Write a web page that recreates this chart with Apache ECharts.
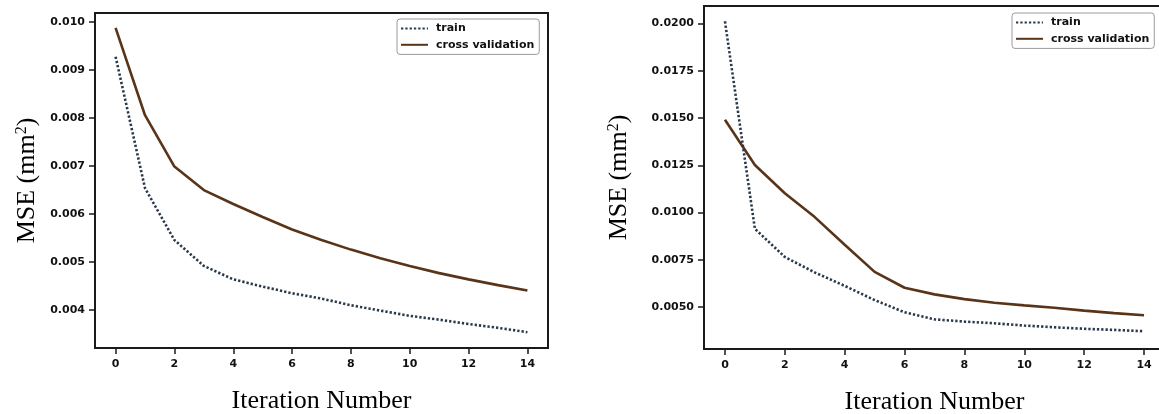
<!DOCTYPE html>
<html>
<head>
<meta charset="utf-8">
<script src="https://cdn.jsdelivr.net/npm/echarts@6/dist/echarts.min.js"></script>
<style>html,body{margin:0;padding:0;background:#fff}#c{width:1159px;height:414px}</style>
</head>
<body>
<div id="c"></div>
<script>
const iterations = [0,1,2,3,4,5,6,7,8,9,10,11,12,13,14];
const leftTrain = [0.00928,0.00654,0.00546,0.00492,0.00464,0.00449,0.00435,0.00424,0.00410,0.00399,0.00388,0.00380,0.00371,0.00363,0.00354];
const leftCV    = [0.00988,0.00806,0.00699,0.00650,0.00621,0.00594,0.00568,0.00546,0.00526,0.00508,0.00492,0.00477,0.00464,0.00452,0.00441];
const rightTrain = [0.02012,0.00914,0.00765,0.00683,0.00612,0.00537,0.00472,0.00435,0.00423,0.00414,0.00402,0.00393,0.00385,0.00379,0.00372];
const rightCV    = [0.01491,0.01252,0.01102,0.00976,0.00830,0.00686,0.00602,0.00567,0.00542,0.00523,0.00509,0.00496,0.00481,0.00468,0.00457];
const xTicks = [0,2,4,6,8,10,12,14];
const leftYTicks = [0.004,0.005,0.006,0.007,0.008,0.009,0.010];
const rightYTicks = [0.0050,0.0075,0.0100,0.0125,0.0150,0.0175,0.0200];
const seriesNames = ['train','cross validation'];
const yTitle = '{m|MSE (mm}{s|2}{m|)}';
const xTitle = 'Iteration Number';

const TRAIN_COLOR = '#2a3a4c';
const CV_COLOR = '#5a3418';
const FRAME = '#1a1a1a';
const TICK = '#1a1a1a';
const tickFont = {fontFamily:'DejaVu Sans', fontWeight:'bold', fontSize:11, color:'#111'};
const serif = 'Liberation Serif';

function pairs(ys){ return iterations.map((x,i)=>[x, ys[i]]); }

function xAxis(gi){
  return {
    type:'value', gridIndex:gi, min:-0.7, max:14.7,
    axisLine:{show:true, onZero:false, lineStyle:{color:FRAME, width:2}}, splitLine:{show:false},
    axisTick:{show:true, inside:false, length:6, lineStyle:{color:TICK, width:1.5}, customValues:xTicks},
    axisLabel:Object.assign({margin:11, customValues:xTicks, formatter:v=>String(v)}, tickFont),
    name:xTitle, nameLocation:'middle', nameGap:40,
    nameTextStyle:{fontFamily:serif, fontSize:26, color:'#000'}
  };
}
function yAxis(gi, min, max, ticks, dec, gap){
  return {
    type:'value', gridIndex:gi, min:min, max:max,
    axisLine:{show:true, onZero:false, lineStyle:{color:FRAME, width:2}}, splitLine:{show:false},
    axisTick:{show:true, inside:false, length:6, lineStyle:{color:TICK, width:1.5}, customValues:ticks},
    axisLabel:Object.assign({margin:10, customValues:ticks, formatter:v=>v.toFixed(dec)}, tickFont),
    name:yTitle, nameLocation:'middle', nameRotate:90, nameGap:gap,
    nameTextStyle:{fontFamily:serif, fontSize:26, color:'#000',
      rich:{m:{fontFamily:serif, fontSize:26, color:'#000'},
            s:{fontFamily:serif, fontSize:16, color:'#000', verticalAlign:'top'}}}
  };
}
function trainSeries(xi, data){
  return {name:seriesNames[0], type:'line', xAxisIndex:xi, yAxisIndex:xi, data:pairs(data),
    symbol:'none', lineStyle:{color:TRAIN_COLOR, width:2.6, type:[2.3,2.0], cap:'butt'}, itemStyle:{color:TRAIN_COLOR}, z:3};
}
function cvSeries(xi, data){
  return {name:seriesNames[1], type:'line', xAxisIndex:xi, yAxisIndex:xi, data:pairs(data),
    symbol:'none', lineStyle:{color:CV_COLOR, width:2.6}, itemStyle:{color:CV_COLOR}, z:2};
}
function legend(left, top){
  return {
    orient:'vertical', left:left, top:top, itemWidth:27, itemHeight:14, itemGap:5,
    padding:[4,5,4,3], borderColor:'#9a9a9a', borderWidth:1, borderRadius:3, backgroundColor:'#fff',
    itemStyle:{opacity:0},
    textStyle:{fontFamily:'DejaVu Sans', fontWeight:'bold', fontSize:11, color:'#111', padding:[0,0,0,3]},
    data:seriesNames.slice()
  };
}

const chart = echarts.init(document.getElementById('c'), null, {renderer:'canvas'});
chart.setOption({
  animation:false,
  backgroundColor:'#fff',
  grid:[
    {left:95, right:611, top:13, bottom:66, show:true, borderColor:FRAME, borderWidth:2, backgroundColor:'transparent', containLabel:false, outerBoundsMode:'none'},
    {left:704, right:-6, top:6, bottom:65, show:true, borderColor:FRAME, borderWidth:2, backgroundColor:'transparent', containLabel:false, outerBoundsMode:'none'}
  ],
  xAxis:[xAxis(0), xAxis(1)],
  yAxis:[yAxis(0, 0.00321, 0.01019, leftYTicks, 3, 55), yAxis(1, 0.00278, 0.02093, rightYTicks, 4, 72)],
  legend:[legend(397, 19), legend(1012, 13)],
  series:[trainSeries(0,leftTrain), cvSeries(0,leftCV), trainSeries(1,rightTrain), cvSeries(1,rightCV)]
});
</script>
</body>
</html>
